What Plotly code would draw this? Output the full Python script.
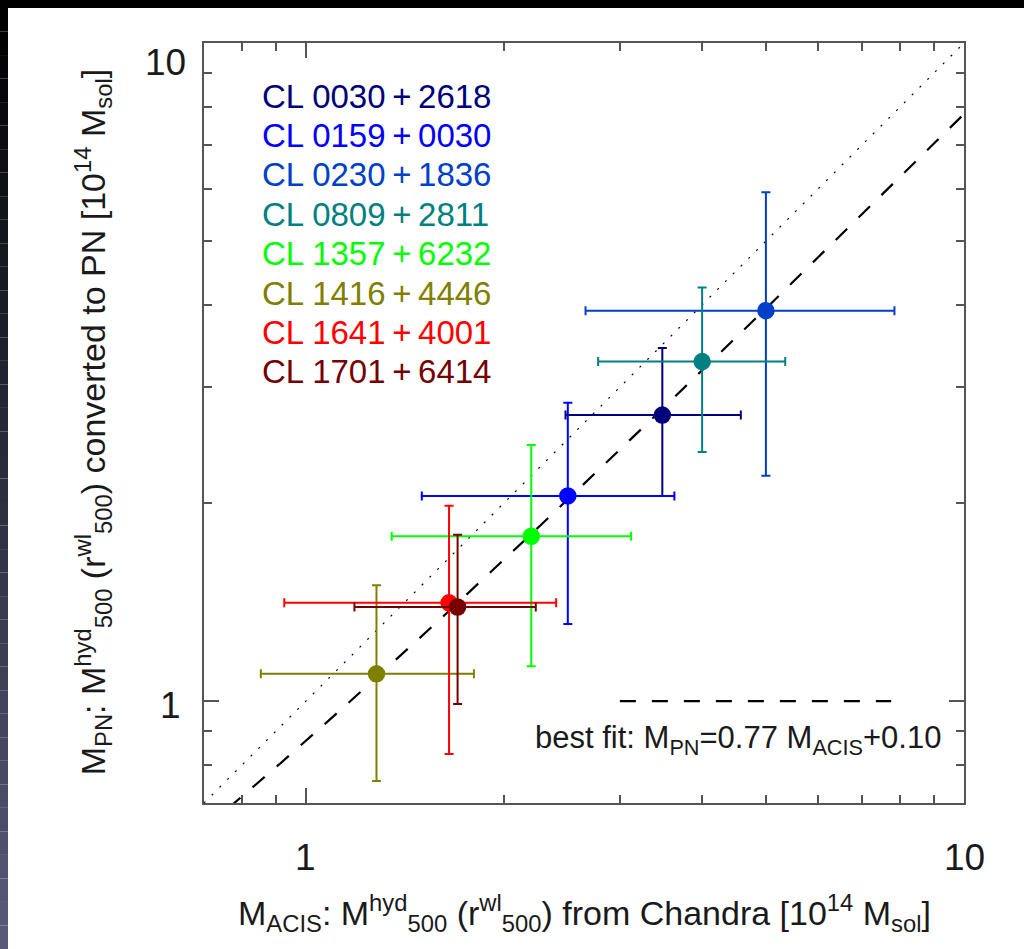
import numpy as np
import plotly.graph_objects as go

# Cluster names and colours
clusters = ["CL 0030+2618", "CL 0159+0030", "CL 0230+1836", "CL 0809+2811",
            "CL 1357+6232", "CL 1416+4446", "CL 1641+4001", "CL 1701+6414"]
colors = ["#00007a", "#0000ff", "#0040c8", "#008080",
          "#00ff00", "#808000", "#ff0000", "#760000"]

# Hydrostatic masses (1e14 Msol): Chandra/ACIS (x) vs XMM PN (y), with bounds
m_acis = [3.48, 2.50, 5.00, 4.00, 2.20, 1.28, 1.65, 1.70]
m_pn = [2.72, 2.05, 3.92, 3.28, 1.78, 1.10, 1.41, 1.39]
acis_lo = [2.48, 1.50, 2.66, 2.78, 1.35, 0.854, 0.927, 1.185]
acis_hi = [4.58, 3.63, 7.84, 5.35, 3.12, 1.80, 2.40, 2.235]
pn_lo = [2.05, 1.31, 2.20, 2.39, 1.13, 0.756, 0.831, 0.99]
pn_hi = [3.44, 2.84, 5.93, 4.25, 2.45, 1.50, 1.98, 1.79]

# Linear best fit M_PN = a * M_ACIS + b
fit_slope = 0.77
fit_intercept = 0.10

axis_min, axis_max = 0.7, 10.0
major_ticks = [1, 10]
minor_ticks = [0.8, 0.9, 2, 3, 4, 5, 6, 7, 8, 9]

FONT = "Liberation Sans, Arial, sans-serif"
AXIS_COLOR = "#555555"

fig = go.Figure()

# one-to-one relation
fig.add_trace(go.Scatter(
    x=[axis_min, axis_max], y=[axis_min, axis_max], mode="lines",
    line=dict(color="black", width=1.2, dash="2px,9px"),
    hoverinfo="skip", showlegend=False))

# best-fit relation (curved on log axes, so sample it finely)
xs = np.logspace(np.log10(axis_min), np.log10(axis_max), 300)
fig.add_trace(go.Scatter(
    x=xs, y=fit_slope * xs + fit_intercept, mode="lines",
    line=dict(color="black", width=2.2, dash="16px,16px"),
    hoverinfo="skip", showlegend=False))

# line sample next to the fit annotation
fig.add_trace(go.Scatter(
    x=[3.0, 7.75], y=[1.0, 1.0], mode="lines",
    line=dict(color="black", width=2.2, dash="16px,16px"),
    hoverinfo="skip", showlegend=False))

for name, c, x, y, xl, xh, yl, yh in zip(clusters, colors, m_acis, m_pn,
                                         acis_lo, acis_hi, pn_lo, pn_hi):
    fig.add_trace(go.Scatter(
        x=[x], y=[y], mode="markers", name=name, showlegend=False,
        marker=dict(size=17.5, color=c, line=dict(width=0)),
        error_x=dict(type="data", symmetric=False, array=[xh - x],
                     arrayminus=[x - xl], color=c, thickness=2, width=4.5),
        error_y=dict(type="data", symmetric=False, array=[yh - y],
                     arrayminus=[y - yl], color=c, thickness=2, width=4.5)))

axis_common = dict(
    type="log",
    range=[np.log10(axis_min), np.log10(axis_max)],
    showgrid=False, zeroline=False,
    showline=True, linecolor=AXIS_COLOR, linewidth=2, mirror="ticks",
    ticks="inside", ticklen=15, tickwidth=1.5, tickcolor=AXIS_COLOR,
    tickvals=major_ticks, showticklabels=False,
    minor=dict(ticks="inside", ticklen=8, tickwidth=1.5, tickcolor=AXIS_COLOR,
               tickvals=minor_ticks, showgrid=False),
)

annotations = []

# cluster key (thin spaces give the plus sign some room)
for i, (name, c) in enumerate(zip(clusters, colors)):
    annotations.append(dict(
        x=0.0737, y=0.930 - i * 0.0518, xref="paper", yref="paper",
        text=name.replace("+", "\u2009+\u2009"), showarrow=False,
        xanchor="left", yanchor="middle",
        font=dict(family=FONT, size=33, color=c)))

# fit label
annotations.append(dict(
    x=0.9724, y=0.083, xref="paper", yref="paper",
    text="best fit: M<sub>PN</sub>=0.77 M<sub>ACIS</sub>+0.10",
    showarrow=False, xanchor="right", yanchor="middle",
    font=dict(family=FONT, size=31, color="#1a1a1a")))

# tick labels
tick_font = dict(family=FONT, size=37, color="#1a1a1a")
annotations += [
    dict(x=0.1342, y=-0.0711, text="1", xanchor="center", yanchor="middle"),
    dict(x=1.0, y=-0.0711, text="10", xanchor="center", yanchor="middle"),
    dict(x=-0.0276, y=0.1289, text="1", xanchor="right", yanchor="middle"),
    dict(x=-0.021, y=0.9737, text="10", xanchor="right", yanchor="middle"),
]
for a in annotations[-4:]:
    a.update(xref="paper", yref="paper", showarrow=False, font=tick_font)

# axis titles
title_font = dict(family=FONT, size=34, color="#1a1a1a")
annotations.append(dict(
    x=0.5013, y=-0.1447, xref="paper", yref="paper", showarrow=False,
    xanchor="center", yanchor="middle", font=title_font,
    text="M<sub>ACIS</sub>: M<sup>hyd</sup><sub>500</sub> (r<sup>wl</sup><sub>500</sub>) "
         "from Chandra [10<sup>14</sup> M<sub>sol</sub>]"))
annotations.append(dict(
    x=-0.146, y=0.501, xref="paper", yref="paper", showarrow=False,
    xanchor="center", yanchor="middle", textangle=-90, font=title_font,
    text="M<sub>PN</sub>: M<sup>hyd</sup><sub>500</sub> (r<sup>wl</sup><sub>500</sub>) "
         "converted to PN [10<sup>14</sup> M<sub>sol</sub>]"))

# dark window edge along the top and left of the canvas
L, T = 204, 43
W = 760


def px(x):
    return (x - L) / W


def py(y):
    return (T + W - y) / W


shapes = [dict(type="rect", xref="paper", yref="paper",
               x0=px(0), x1=px(1024), y0=py(8), y1=py(0),
               fillcolor="black", line=dict(width=0), layer="above")]
n_band = 40
for k in range(n_band):
    y0, y1 = 8 + k * (941 / n_band), 8 + (k + 1) * (941 / n_band)
    f = (k + 0.5) / n_band
    col = "rgb(%d,%d,%d)" % (int(90 * f), int(90 * f), int(125 * f))
    shapes.append(dict(type="rect", xref="paper", yref="paper",
                       x0=px(0), x1=px(8), y0=py(y1), y1=py(y0),
                       fillcolor=col, line=dict(width=0), layer="above"))

fig.update_layout(
    width=1024, height=949,
    margin=dict(l=L, r=1024 - L - W, t=T, b=949 - T - W),
    paper_bgcolor="white", plot_bgcolor="white",
    xaxis=axis_common, yaxis=axis_common,
    annotations=annotations, shapes=shapes,
    showlegend=False,
)

fig.write_html("out.html")
